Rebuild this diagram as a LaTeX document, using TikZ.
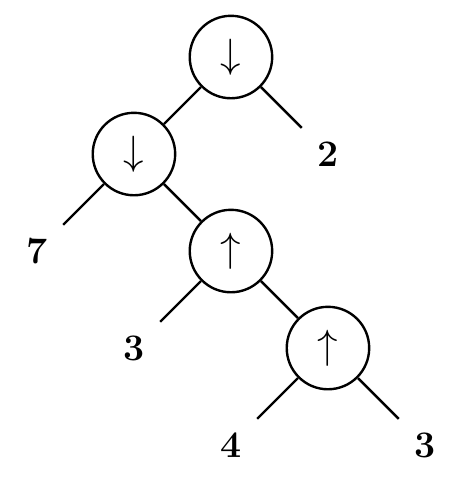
\documentclass[tikz,border=0pt]{standalone}
\usetikzlibrary{positioning}
\tikzset{
  node distance=1cm and 1cm, % grid step between levels and columns
  op/.style={circle, draw, minimum size=8.5mm, inner sep=0pt,
    font=\fontsize{11.5}{13}\selectfont}, % operator nodes
  leaf/.style={circle, minimum size=7.4mm, inner sep=0pt,
    font=\fontsize{11}{13}\selectfont\bfseries}, % the leaves, no border
}

\begin{document}
\begin{tikzpicture}[on grid, line width=0.7pt]
  \useasboundingbox (-2.381,0.588) rectangle (2.381,-4.381);

  \node[op] (root) {$\downarrow$};
  \node[op, below left=of root] (dn) {$\downarrow$};
  \node[leaf, below right=of root] (two) {2};
  \node[leaf, below left=of dn] (seven) {7};
  \node[op, below right=of dn] (up) {$\uparrow$};
  \node[leaf, below left=of up] (three) {3};
  \node[op, below right=of up] (upp) {$\uparrow$};
  \node[leaf, below left=of upp] (four) {4};
  \node[leaf, below right=of upp] (threeb) {3};

  \draw (root) edge (dn) edge (two);
  \draw (dn) edge (seven) edge (up);
  \draw (up) edge (three) edge (upp);
  \draw (upp) edge (four) edge (threeb);
\end{tikzpicture}
\end{document}
